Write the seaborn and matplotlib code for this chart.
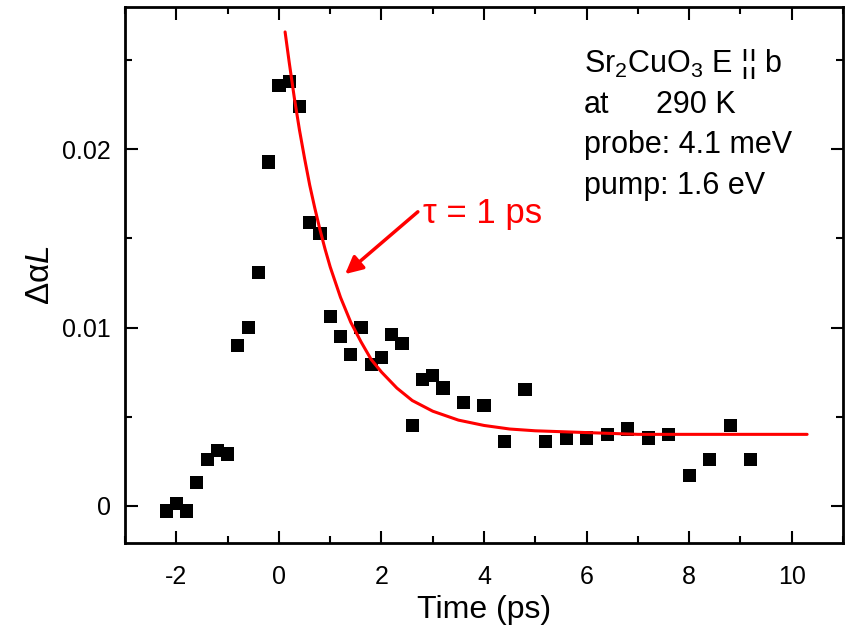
import matplotlib
matplotlib.use('Agg')
import matplotlib.pyplot as plt
import seaborn as sns
from matplotlib.ticker import MultipleLocator, FuncFormatter

# pontos medidos (Time em ps, Delta alpha L)
tempo = [-2.2, -2.0, -1.8, -1.6, -1.4, -1.2, -1.0, -0.8, -0.6, -0.4, -0.2,
         0.0, 0.2, 0.4, 0.6, 0.8, 1.0, 1.2, 1.4, 1.6, 1.8, 2.0, 2.2, 2.4,
         2.6, 2.8, 3.0, 3.2, 3.6, 4.0, 4.4, 4.8, 5.2, 5.6, 6.0, 6.4, 6.8,
         7.2, 7.6, 8.0, 8.4, 8.8, 9.2]
dal = [-0.0003, 0.0001, -0.0003, 0.0013, 0.0026, 0.0031, 0.0029, 0.0090,
       0.0100, 0.0131, 0.0193, 0.0236, 0.0238, 0.0224, 0.0159, 0.0153,
       0.0106, 0.0095, 0.0085, 0.0100, 0.0079, 0.0083, 0.0096, 0.0091,
       0.0045, 0.0071, 0.0073, 0.0066, 0.0058, 0.0056, 0.0036, 0.0065,
       0.0036, 0.0038, 0.0038, 0.0040, 0.0043, 0.0038, 0.0040, 0.0017,
       0.0026, 0.0045, 0.0026]

# curva de ajuste (tau = 1 ps)
fit_t = [0.12, 0.2, 0.3, 0.4, 0.5, 0.6, 0.7, 0.8, 0.9, 1.0, 1.2, 1.4, 1.6,
         1.8, 2.0, 2.3, 2.6, 3.0, 3.5, 4.0, 4.5, 5.0, 6.0, 7.0, 8.5, 10.3]
fit_y = [0.0266, 0.0249, 0.0229, 0.0211, 0.0195, 0.0180, 0.0167, 0.0155,
         0.0144, 0.0134, 0.0117, 0.0103, 0.0092, 0.0082, 0.0075, 0.0066,
         0.0059, 0.0053, 0.0048, 0.0045, 0.0043, 0.0042, 0.0041, 0.0040,
         0.0040, 0.0040]

info = [r'Sr$_\mathregular{2}$CuO$_\mathregular{3}$ E ¦¦ b', 'at',
        'probe: 4.1 meV', 'pump: 1.6 eV']

sns.set_style('ticks')
plt.rcParams['font.family'] = ['Liberation Sans', 'DejaVu Sans']
plt.rcParams['mathtext.fontset'] = 'custom'
plt.rcParams['mathtext.rm'] = 'Liberation Sans'
plt.rcParams['mathtext.it'] = 'Liberation Sans:italic'
plt.rcParams['axes.unicode_minus'] = False
plt.rcParams['text.color'] = 'black'
plt.rcParams['axes.labelcolor'] = 'black'

fig = plt.figure(figsize=(8.51, 6.31), dpi=100)
ax = fig.add_axes([0.147, 0.1395, 0.8436, 0.8494])

sns.scatterplot(x=tempo, y=dal, marker='s', s=90, color='black',
                edgecolor='none', ax=ax)
sns.lineplot(x=fit_t, y=fit_y, color='red', linewidth=2.2, ax=ax)

ax.set_xlim(-3, 11)
ax.set_ylim(-0.0021, 0.028)
ax.xaxis.set_major_locator(MultipleLocator(2))
ax.xaxis.set_minor_locator(MultipleLocator(1))
ax.yaxis.set_major_locator(MultipleLocator(0.01))
ax.yaxis.set_minor_locator(MultipleLocator(0.005))
ax.yaxis.set_major_formatter(FuncFormatter(lambda v, p: f'{v:g}'))
ax.tick_params(which='both', direction='in', top=True, right=True,
               width=1.5, labelsize=18, colors='black')
ax.tick_params(axis='x', pad=16)
ax.tick_params(axis='y', pad=10)
ax.tick_params(which='major', length=9)
ax.tick_params(which='minor', length=5)
for s in ax.spines.values():
    s.set_linewidth(2)
    s.set_color('black')

ax.set_xlabel('Time (ps)', fontsize=23, labelpad=4)
ax.set_ylabel(r'Δα$\mathit{L}$', fontsize=24, labelpad=5)

# seta e rotulo tau
ax.annotate('', xy=(1.25, 0.0129), xytext=(2.75, 0.0166),
            arrowprops=dict(arrowstyle='-|>', color='red', lw=2.5,
                            mutation_scale=26))
ax.text(2.8, 0.0164, 'τ = 1 ps', color='red', fontsize=25, va='center')

# bloco de texto
for i, linha in enumerate(info):
    ax.text(5.95, 0.0248 - i * 0.00228, linha, fontsize=22, va='center')
ax.text(7.35, 0.0248 - 0.00228, '290 K', fontsize=22, va='center')

fig.savefig('out.png', dpi=100)
